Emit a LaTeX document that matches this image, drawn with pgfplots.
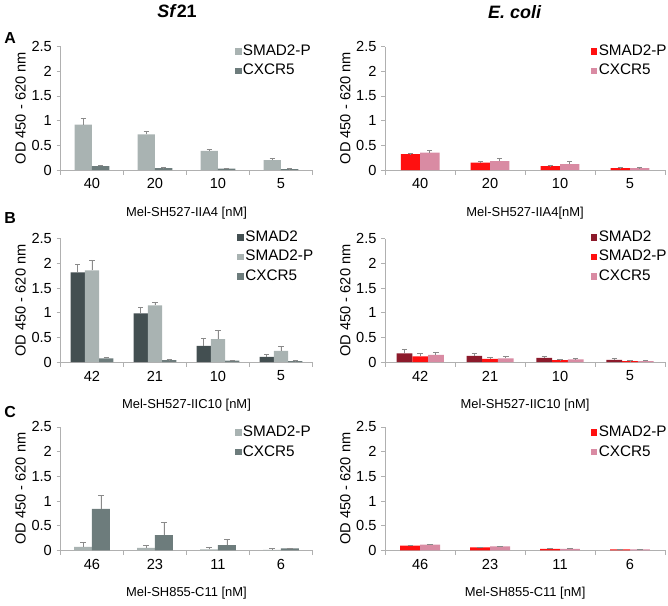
\documentclass[border=0pt]{standalone}
\usepackage{fontspec}
\setmainfont{Liberation Sans}
\usepackage{pgfplots}
\pgfplotsset{compat=1.18}

\definecolor{sfdark}{HTML}{434F51}
\definecolor{sflight}{HTML}{A9B3B2}
\definecolor{sfmid}{HTML}{6D7C7C}
\definecolor{ecdark}{HTML}{8C1A2B}
\definecolor{ecred}{HTML}{FF1010}
\definecolor{ecpink}{HTML}{D98BA3}
\definecolor{axisgray}{HTML}{B0B0B0}
\definecolor{errgray}{HTML}{8A8A8A}

% 1 px of the reference = 0.75pt
\pgfplotsset{
  panel/.style={
    scale only axis, height=93pt,
    ymin=0, ymax=2.5, ytick={0,0.5,1,1.5,2,2.5},
    xmin=-0.5, xmax=3.5, xtick={0,1,2,3},
    minor xtick={-0.5,0.5,1.5,2.5,3.5},
    axis x line*=bottom, axis y line*=left,
    axis line style={draw=axisgray, line width=0.6pt},
    tick align=outside, major tick length=3pt, minor tick length=3.5pt,
    every tick/.style={draw=axisgray, line width=0.6pt},
    every major x tick/.append style={draw=none},
    tick label style={font=\fontsize{11}{13}\selectfont},
    /pgf/number format/assume math mode=true,
    ybar=0pt,
    ylabel={OD 450 - 620 nm},
    xlabel style={font=\fontsize{9.75}{11}\selectfont},
    ylabel style={font=\fontsize{11}{13}\selectfont},
    legend style={draw=none, fill=none, anchor=north west, inner sep=0pt,
      font=\fontsize{11.5}{13}\selectfont, row sep=3pt,
      nodes={inner sep=1pt, text height=8pt, text depth=2pt}},
    legend cell align=left,
    legend image code/.code={\fill[#1,draw=none] (0pt,-2.6pt) rectangle (5.2pt,2.6pt);},
    error bars/y dir=plus, error bars/y explicit,
    error bars/error bar style={color=errgray, line width=0.6pt},
    error bars/error mark options={rotate=90, color=errgray, mark size=2pt, line width=0.6pt},
  },
  leftpanel/.style={panel, width=189.75pt,
    ylabel style={at={(axis description cs:-0.158,0.5)}, anchor=center},
    xlabel style={at={(axis description cs:0.5,-0.347)}, anchor=center}},
  rightpanel/.style={panel, width=210.75pt,
    ylabel style={at={(axis description cs:-0.142,0.5)}, anchor=center},
    xlabel style={at={(axis description cs:0.5,-0.347)}, anchor=center}},
}

\begin{document}
\begin{tikzpicture}
\path (0,0) rectangle (501pt,455.25pt);

\node[font=\fontsize{13.5}{15}\selectfont\bfseries] at (131.25pt,447.5pt) {\textit{Sf}21};
\node[font=\fontsize{13.5}{15}\selectfont\bfseries\itshape] at (385.5pt,447pt) {E. coli};
\node[font=\fontsize{12}{14}\selectfont\bfseries] at (5.6pt,427.5pt) {A};
\node[font=\fontsize{12}{14}\selectfont\bfseries] at (5.6pt,291.75pt) {B};
\node[font=\fontsize{12}{14}\selectfont\bfseries] at (5.6pt,145.5pt) {C};

% ===== A, Sf21 =====
\begin{axis}[leftpanel, at={(43.5pt,327.75pt)}, anchor=south west,
  bar width=13.1pt, xticklabels={40,20,10,5},
  xlabel={Mel-SH527-IIA4 [nM]},
  legend style={at={(0.69,1.03)}}]
\addplot[fill=sflight, draw=none] table[y error=e] {
x y e
0 0.92 0.12
1 0.72 0.07
2 0.39 0.03
3 0.20 0.03
};
\addplot[fill=sfmid, draw=none] table[y error=e] {
x y e
0 0.08 0.02
1 0.04 0.01
2 0.03 0.01
3 0.02 0.01
};
\legend{SMAD2-P,CXCR5}
\end{axis}

% ===== A, E. coli =====
\begin{axis}[rightpanel, at={(288pt,327.75pt)}, anchor=south west,
  bar width=14.6pt, xticklabels={40,20,10,5},
  xlabel={Mel-SH527-IIA4[nM]},
  legend style={at={(0.733,1.03)}}]
\addplot[fill=ecred, draw=none] table[y error=e] {
x y e
0 0.32 0.01
1 0.15 0.02
2 0.08 0.01
3 0.04 0.01
};
\addplot[fill=ecpink, draw=none] table[y error=e] {
x y e
0 0.35 0.04
1 0.18 0.05
2 0.12 0.05
3 0.04 0.01
};
\legend{SMAD2-P,CXCR5}
\end{axis}

% ===== B, Sf21 =====
\begin{axis}[leftpanel, at={(43.5pt,183pt)}, anchor=south west,
  bar width=10.7pt, xticklabels={42,21,10,5},
  xlabel={Mel-SH527-IIC10 [nM]},
  legend style={at={(0.70,1.08)}}]
\addplot[fill=sfdark, draw=none] table[y error=e] {
x y e
0 1.82 0.16
1 0.99 0.12
2 0.33 0.15
3 0.11 0.04
};
\addplot[fill=sflight, draw=none] table[y error=e] {
x y e
0 1.86 0.21
1 1.15 0.06
2 0.47 0.17
3 0.23 0.09
};
\addplot[fill=sfmid, draw=none] table[y error=e] {
x y e
0 0.08 0.02
1 0.04 0.01
2 0.03 0.01
3 0.02 0.01
};
\legend{SMAD2,SMAD2-P,CXCR5}
\end{axis}

% ===== B, E. coli =====
\begin{axis}[rightpanel, at={(288pt,183pt)}, anchor=south west,
  bar width=11.85pt, xticklabels={42,21,10,5},
  xlabel={Mel-SH527-IIC10 [nM]},
  legend style={at={(0.733,1.08)}}]
\addplot[fill=ecdark, draw=none] table[y error=e] {
x y e
0 0.18 0.08
1 0.13 0.05
2 0.09 0.03
3 0.05 0.03
};
\addplot[fill=ecred, draw=none] table[y error=e] {
x y e
0 0.12 0.05
1 0.07 0.02
2 0.04 0.01
3 0.02 0.01
};
\addplot[fill=ecpink, draw=none] table[y error=e] {
x y e
0 0.15 0.05
1 0.08 0.04
2 0.06 0.01
3 0.02 0.02
};
\legend{SMAD2,SMAD2-P,CXCR5}
\end{axis}

% ===== C, Sf21 =====
\begin{axis}[leftpanel, at={(43.5pt,41.25pt)}, anchor=south west,
  bar width=13.5pt, xticklabels={46,23,11,6},
  xlabel={Mel-SH855-C11 [nM]},
  legend style={at={(0.69,1.025)}}]
\addplot[fill=sflight, draw=none] table[y error=e] {
x y e
0 0.07 0.09
1 0.05 0.05
2 0.02 0.05
3 0.01 0.03
};
\addplot[fill=sfmid, draw=none] table[y error=e] {
x y e
0 0.84 0.28
1 0.31 0.26
2 0.11 0.11
3 0.04 0.01
};
\legend{SMAD2-P,CXCR5}
\end{axis}

% ===== C, E. coli =====
\begin{axis}[rightpanel, at={(288pt,41.25pt)}, anchor=south west,
  bar width=15pt, xticklabels={46,23,11,6},
  xlabel={Mel-SH855-C11 [nM]},
  legend style={at={(0.733,1.025)}}]
\addplot[fill=ecred, draw=none] table[y error=e] {
x y e
0 0.10 0.01
1 0.06 0.01
2 0.03 0.01
3 0.02 0.01
};
\addplot[fill=ecpink, draw=none] table[y error=e] {
x y e
0 0.12 0.01
1 0.08 0.01
2 0.03 0.01
3 0.02 0.01
};
\legend{SMAD2-P,CXCR5}
\end{axis}
\end{tikzpicture}
\end{document}
